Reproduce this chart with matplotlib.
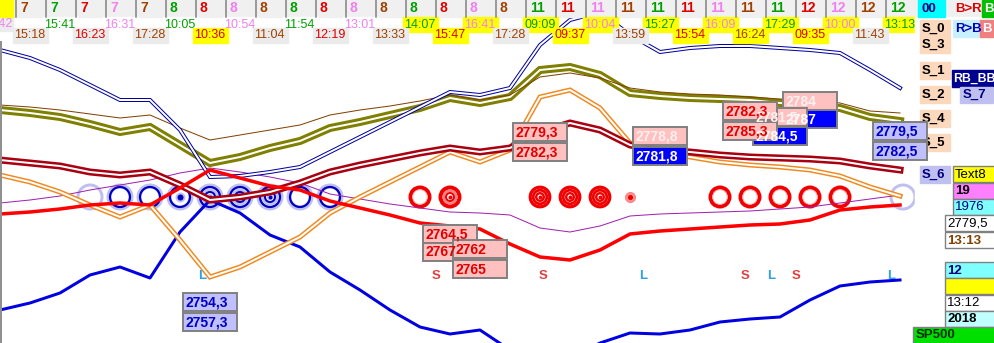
import matplotlib
matplotlib.use("Agg")
import matplotlib.pyplot as plt
from matplotlib.patches import Rectangle
import numpy as np

plt.rcParams['font.family'] = ['Liberation Sans', 'DejaVu Sans']

# ---- data -------------------------------------------------------------
# one value per bar, bars 0..30
bars = np.arange(31)

blue_band = [50, 58, 70, 85, 100, 100, 130, 177, 176, 172, 167, 152, 137, 122, 107, 92,
             95, 88, 45, 20, 12, 35, 52, 48, 46, 46, 48, 50, 53, 70, 88]
olive_band = [110, 113, 117, 124, 132, 127, 145, 163, 157, 148, 141, 128, 122, 115, 108, 98,
              103, 97, 70, 67, 75, 93, 96, 98, 99, 100, 103, 105, 108, 117, 121]
brown_line = [105, 107, 110, 114, 118, 115, 128, 140, 135, 130, 125, 115, 110, 106, 101, 95,
              100, 95, 77, 73, 78, 88, 92, 94, 95, 97, 99, 100, 103, 111, 113]
darkred_band = [160, 163, 166, 172, 175, 172, 185, 200, 197, 192, 183, 172, 165, 159, 153, 148,
                152, 148, 132, 123, 130, 145, 150, 152, 155, 157, 158, 159, 161, 166, 170]
orange_band = [175, 182, 192, 205, 217, 205, 240, 277, 267, 252, 237, 213, 197, 182, 167, 152,
               162, 150, 97, 90, 108, 143, 152, 157, 162, 165, 167, 170, 176, 187, 196]
purple_line = [203, 200, 196, 190, 185, 180, 173, 168, 172, 177, 183, 194, 199, 204, 208, 212,
               213, 215, 228, 232, 226, 216, 214, 213, 212, 211, 209, 207, 203, 199, 195]
red_line = [214, 212, 209, 205, 203, 205, 188, 170, 178, 186, 190, 201, 208, 215, 223, 226,
            229, 244, 257, 260, 250, 234, 231, 229, 227, 225, 224, 220, 210, 207, 205]
blue_line = [310, 303, 293, 275, 267, 278, 232, 200, 213, 235, 247, 272, 290, 310, 327, 334,
             330, 350, 362, 358, 343, 333, 334, 330, 322, 319, 317, 300, 286, 282, 280]

# circle markers: bar index and kind
blue_circ_bars = [3, 4, 5, 6, 7, 8, 9, 10, 11, 30]
blue_circ_kind = ['halo', 'ring', 'ring', 'dot', 'target', 'target', 'target', 'ring', 'ring', 'halo']
red_circ_bars = [14, 15, 18, 19, 20, 21, 24, 25, 26, 27, 28]
red_circ_kind = ['ring', 'eye', 'target', 'target', 'target', 'small', 'ring', 'ring', 'ring', 'ring', 'ring']

# S / L signals
sig_bars = [6.75, 14.55, 15.6, 18.1, 21.45, 24.85, 25.7, 26.55, 29.7]
sig_text = ['L', 'S', 'L', 'S', 'L', 'S', 'L', 'S', 'L']

# header row
day_labels = [7] * 5 + [8] * 12 + [11] * 9 + [12] * 4
time_labels = ['15:18', '15:41', '16:23', '16:31', '17:28', '10:05', '10:36', '10:54', '11:04',
               '11:54', '12:19', '13:01', '13:33', '14:07', '15:47', '16:41', '17:28', '09:09',
               '09:37', '10:04', '13:59', '15:27', '15:54', '16:09', '16:24', '17:29', '09:35',
               '10:00', '11:43', '13:13']
yellow_cols = [6, 13, 14, 15, 17, 18, 19, 21, 22, 23, 24, 25, 26, 27, 29]
col_colors = ['#a04000', '#00a000', '#e00000', '#f080f0']

# price tags: text, left, top, background, text colour
tags = [
    ('2779,3', 513, 123, '#ffc0c0', '#e00000'),
    ('2782,3', 513, 143, '#ffc0c0', '#e00000'),
    ('2778,8', 633, 127, '#ffc0c0', '#fff0f0'),
    ('2781,8', 633, 147, '#0000ff', 'white'),
    ('2787', 783, 110, '#0000ff', 'white'),
    ('2784', 783, 92, '#ffc0c0', '#fff0f0'),
    ('2784,5', 753, 127, '#0000ff', 'white'),
    ('2781,5', 753, 108, '#ffc0c0', '#fff0f0'),
    ('2782,3', 723, 102, '#ffc0c0', '#e00000'),
    ('2785,3', 723, 122, '#ffc0c0', '#e00000'),
    ('2764,5', 423, 225, '#ffc0c0', '#e00000'),
    ('2767', 423, 243, '#ffc0c0', '#e00000'),
    ('2762', 453, 240, '#ffc0c0', '#e00000'),
    ('2765', 453, 260, '#ffc0c0', '#e00000'),
    ('2754,3', 183, 293, '#c0c0ff', '#0000c0'),
    ('2757,3', 183, 313, '#c0c0ff', '#0000c0'),
]

BAR_W = 30
CIRC_Y = 197

fig = plt.figure(figsize=(9.95, 3.43), dpi=100)
ax = fig.add_axes([0, 0, 1, 1])
ax.set_xlim(0, 995)
ax.set_ylim(343, 0)
ax.axis('off')

px = 0.72  # points per pixel
xs = bars * BAR_W


def box(x, y, w, h, fc, ec=None, lw=1.0, z=10):
    ax.add_patch(Rectangle((x, y), w, h, facecolor=fc, edgecolor=ec if ec else fc,
                           linewidth=lw, zorder=z))


def label(x, y, s, color, size=9.5, bold=True, z=11, ha='left'):
    ax.text(x, y, s, color=color, fontsize=size, fontweight='bold' if bold else 'normal',
            ha=ha, va='center', zorder=z)


def double(vals, color, outer, inner, z):
    ax.plot(xs, vals, color=color, lw=outer * px, zorder=z, solid_joinstyle='miter')
    ax.plot(xs, vals, color='white', lw=inner * px, zorder=z + 0.1, solid_joinstyle='miter')


def ring(x, r, color, w, z=2, face='none'):
    ax.scatter([x], [CIRC_Y], s=(2 * r * px) ** 2, facecolors=face, edgecolors=color,
               linewidths=w * px, zorder=z)


# ---- circles under the lines -----------------------------------------
lav = '#c0c0f0'
navy = '#0000c0'
for b, k in zip(blue_circ_bars, blue_circ_kind):
    x = b * BAR_W + (3 if b == 30 else 0)
    if k == 'halo':
        ring(x, 12, lav, 3)
        continue
    ring(x, 11, lav, 5)
    ring(x, 10, navy, 2.2)
    if k == 'dot':
        ring(x, 4, lav, 2, face=lav)
        ring(x, 2.5, navy, 1, face=navy)
    if k == 'target':
        ring(x, 7, lav, 3)
        ring(x, 5, navy, 2)
        ring(x, 2.5, lav, 1.5)
        ring(x, 1.5, navy, 1, face=navy)

red = '#f00000'
for b, k in zip(red_circ_bars, red_circ_kind):
    x = b * BAR_W
    if k == 'ring':
        ring(x, 9.5, red, 4)
        ring(x, 7.3, '#ffb0b0', 1)
    elif k == 'eye':
        ring(x, 9.5, red, 4)
        ring(x, 6.3, '#ff8080', 2.5)
        ring(x, 4, red, 2)
        ring(x, 1.5, red, 1, face=red)
    elif k == 'target':
        ring(x, 9.8, red, 3.2)
        ring(x, 6.8, red, 2.8)
        ring(x, 3.8, red, 2.4)
        ring(x, 1.5, red, 1, face=red)
    else:
        ring(x, 5, '#ff8080', 1, face='#ff9090')
        ring(x, 2, red, 1, face=red)

# ---- lines ------------------------------------------------------------
ax.plot(xs, blue_line, color='#0000e0', lw=3 * px, zorder=3)
ax.plot(xs, purple_line, color='#a020b0', lw=1 * px, zorder=3)
double(orange_band, '#f08a20', 5, 2, 4)
double(darkred_band, '#a80010', 7, 2, 4.5)
double(olive_band, '#808000', 8, 2, 5)
ax.plot(xs, brown_line, color='#804000', lw=1 * px, zorder=5.5)
double(blue_band, '#0000a0', 4, 2, 6)
ax.plot(xs, red_line, color='#ff0000', lw=3.5 * px, zorder=6.5)

# S / L markers
for b, t in zip(sig_bars, sig_text):
    label(b * BAR_W, 276, t, '#e04040' if t == 'S' else '#30a0e0', size=9.5, ha='center', z=7)

# price tags
for t, x0, y0, fc, tc in tags:
    box(x0, y0, 54, 18, fc, '#808080', 1.4, z=20)
    label(x0 + 3, y0 + 9.5, t, tc, size=10, z=21)

# ---- header -----------------------------------------------------------
box(0, 0, 995, 17, '#f0f0f0', z=8)
box(0, 0, 13, 17, '#ffff00', z=8.5)
for i, d in enumerate(day_labels):
    x0 = 15 + i * BAR_W
    ax.plot([x0 + 1, x0 + 1], [0, 17], color='#808080', lw=1.5 * px, zorder=9)
    label(x0 + 5, 8.5, str(d), col_colors[i % 4], size=10, z=9)

# time labels: upper row boxes, then lower row boxes, texts on top
box(-20, 17, 33, 14, '#ebebeb', z=8)
ax.text(-19, 24, '16:42', color=col_colors[3], fontsize=9, va='center', zorder=9)
for i, t in enumerate(time_labels):
    x0 = 13 + i * BAR_W
    upper = i % 2 == 1
    top = 17 if upper else 28
    if i in yellow_cols:
        fc = '#ffff00'
    elif upper:
        fc = 'white'
    else:
        fc = '#ebebeb'
    box(x0, top, 35, 15, fc, z=8.1 if upper else 8.2)
    ax.text(x0 + 1.5, top + 7.5, t, color=col_colors[i % 4], fontsize=9, va='center',
            zorder=8.3)

# ---- right panel ------------------------------------------------------
box(915, 17, 80, 326, 'white', z=15)
box(918, 0, 27, 17, '#00ffff', z=16)
label(921, 8.5, '00', '#000080', z=17)
label(955, 8.5, 'B>R', '#e00000', z=17)
box(982, 0, 13, 17, '#00c000', z=16)
label(984, 8.5, 'B', 'white', z=17)

peach = '#fcd8bc'
box(920, 20, 30, 33, peach, z=16)
label(922, 28.5, 'S_0', 'black', z=17)
label(922, 45, 'S_3', 'black', z=17)
box(953, 20, 30, 17, '#c8f0ff', z=16)
label(955, 28.5, 'R>B', '#0000c0', z=17)
box(980, 20, 15, 17, '#f08080', z=16)
label(982, 28.5, 'B', 'white', z=17)
for s, yt in [('S_1', 62), ('S_2', 86), ('S_4', 110), ('S_5', 134)]:
    box(920, yt, 30, 17, peach, z=16)
    label(922, yt + 8.5, s, 'black', z=17)
box(952, 70, 43, 17, '#000090', z=16)
label(953, 78.5, 'RB_BB', 'white', size=8.8, z=17)
box(960, 87, 33, 16, lav, z=16)
label(963, 95, 'S_7', '#000080', z=17)
box(920, 166, 30, 17, lav, z=16)
label(922, 174.5, 'S_6', '#000080', z=17)

# info boxes
info = [('Text8', 953, 166, '#ffff00', 'black', False),
        ('19', 953, 183, '#ff80ff', 'black', True),
        ('1976', 953, 199, '#80ffff', '#000080', False),
        ('2779,5', 945, 215, 'white', 'black', False),
        ('13:13', 945, 232, 'white', '#804000', True),
        ('12', 945, 262, '#80ffff', '#000080', True),
        ('', 945, 278, '#ffff00', 'black', False),
        ('13:12', 945, 295, 'white', 'black', False),
        ('2018', 945, 311, '#c0ffff', 'black', True)]
for t, x0, y0, fc, tc, b in info:
    box(x0, y0, 995 - x0 + 2, 16, fc, '#808080', 1.0, z=16)
    label(x0 + 2, y0 + 8.5, t, tc, size=9.5, bold=b, z=17)
box(913, 327, 84, 17, '#00e000', '#808080', 1.0, z=16)
label(916, 335.5, 'SP500', '#003000', z=17)

# lavender tags at the right edge, over the S_5 box
for t, yt in [('2779,5', 122), ('2782,5', 142)]:
    box(873, yt, 54, 18, '#c0c0ff', '#808080', 1.4, z=18)
    label(876, yt + 9.5, t, '#0000c0', size=10, z=19)

# left border
ax.plot([1, 1], [42, 343], color='#909090', lw=2 * px, zorder=9)

fig.savefig('out.png', dpi=100)
